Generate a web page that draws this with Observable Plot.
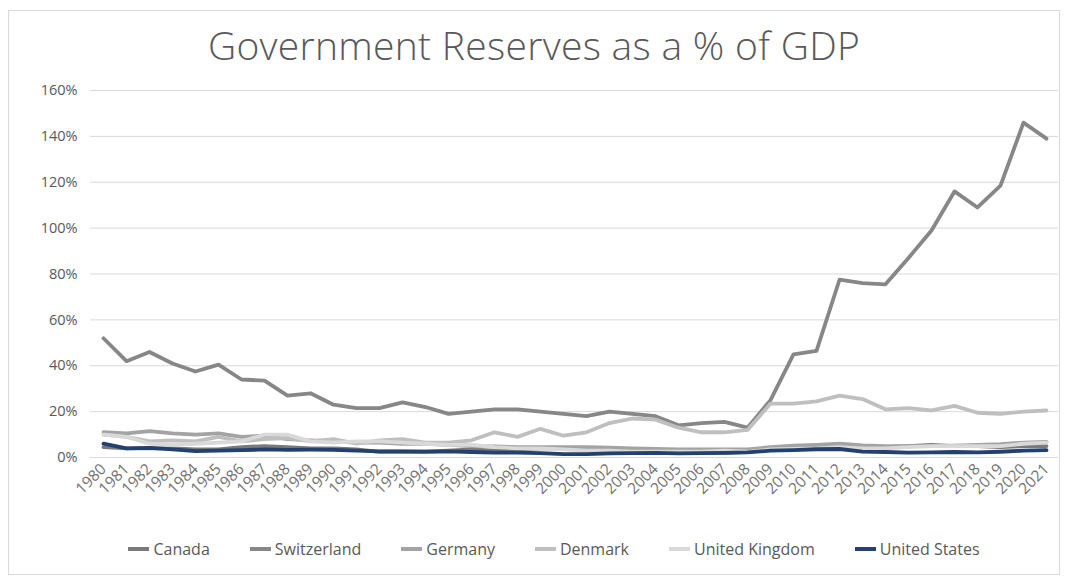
<!DOCTYPE html>
<html>
<head>
<meta charset="utf-8">
<script src="https://cdn.jsdelivr.net/npm/d3@7"></script>
<script src="https://cdn.jsdelivr.net/npm/@observablehq/plot@0.6"></script>
<style>
  body { margin: 0; background: #fff; font-family: "Open Sans", sans-serif; }
  #frame { position: absolute; left: 8px; top: 10px; width: 1050px; height: 563px; border: 1px solid #d9d9d9; background: #fff; }
  #title { height: 61px; box-sizing: border-box; padding-top: 6px; line-height: 55px; text-align: center; font-size: 39px; color: #595959; font-weight: 300; letter-spacing: 0.3px; }
  #chart svg { display: block; }
  #legend { display: flex; justify-content: center; gap: 40px; padding-top: 32px; padding-left: 40px; font-size: 16px; color: #595959; line-height: 20px; }
  .item { display: flex; align-items: center; }
  .sw { width: 21px; height: 4px; margin-right: 4px; }
</style>
</head>
<body>
<div id="frame">
  <div id="title">Government Reserves as a % of GDP</div>
  <div id="chart"></div>
  <div id="legend"></div>
</div>
<script>
const years = [1980,1981,1982,1983,1984,1985,1986,1987,1988,1989,1990,1991,1992,1993,1994,1995,1996,1997,1998,1999,2000,2001,2002,2003,2004,2005,2006,2007,2008,2009,2010,2011,2012,2013,2014,2015,2016,2017,2018,2019,2020,2021];

const seriesNames = ["Canada", "Switzerland", "Germany", "Denmark", "United Kingdom", "United States"];
const seriesColors = ["#7a7a7a", "#878787", "#a3a3a3", "#bfbfbf", "#d9d9d9", "#23416f"];

const canada = [4.5,4,4,4,3.5,3.5,4.5,5,4.5,4,4,3.5,2.5,2.5,2.5,3,3.5,3,3.5,4,4,4,3.5,3,2.5,2,2,2,2.5,3.5,4,4.5,4.5,4.5,4.5,5,5.5,5,5,4.5,5,5];
const switzerland = [52,42,46,41,37.5,40.5,34,33.5,27,28,23,21.5,21.5,24,22,19,20,21,21,20,19,18,20,19,18,14,15,15.5,13,25,45,46.5,77.5,76,75.5,87,99,116,109,118.5,146,139];
const germany = [11,10.5,11.5,10.5,10,10.5,9,9.5,8,7.5,7,6.5,6.5,6,6,5.5,5,4.8,4.5,4.5,4.5,4.5,4.3,4,3.8,3.5,3.5,3.5,3.5,4.5,5.2,5.5,6,5.3,5,5,5,5.2,5.5,5.8,6.5,6.8];
const denmark = [10,9,7,7.5,7,9,7,8,8.5,7,8,6,7.5,8,6.5,6.5,7.5,11,9,12.5,9.5,11,15,17,16.5,13,11,11,12,23.5,23.5,24.5,27,25.5,21,21.5,20.5,22.5,19.5,19,20,20.5];
const unitedKingdom = [10,9,6,5.5,6,6.5,7,10,10,7,6.5,7,7,6.5,6,5.5,5.5,4.5,4,4,3.5,3,3,2.5,2.5,2.5,2.5,3,2.5,3.5,3.8,4,4.5,4,4,4.5,5,5,5,5,6,6.5];
const unitedStates = [6,4,4.2,3.5,2.8,3,3.2,3.5,3.3,3.4,3.3,3,2.7,2.7,2.6,2.7,2.4,2.1,2.1,1.9,1.5,1.5,1.8,1.9,2,1.8,1.9,2,2.2,3,3.2,3.6,3.7,2.6,2.4,2.1,2.2,2.4,2.2,2.5,3,3.2];

const yTicks = [0,20,40,60,80,100,120,140,160];

const allValues = [canada, switzerland, germany, denmark, unitedKingdom, unitedStates];
const data = [];
seriesNames.forEach((name, i) => {
  allValues[i].forEach((v, j) => data.push({series: name, year: String(years[j]), value: v}));
});

const lines = seriesNames.map((name, i) =>
  Plot.line(data.filter(d => d.series === name), {
    x: "year", y: "value", stroke: seriesColors[i], strokeWidth: 3.8,
    strokeLinejoin: "round", strokeLinecap: "round"
  })
);

const chart = Plot.plot({
  width: 1050,
  height: 435,
  marginTop: 18,
  marginBottom: 50,
  marginLeft: 81,
  marginRight: 1,
  style: { fontFamily: "'Open Sans', sans-serif", fontSize: "14.5px", color: "#595959", background: "#fff" },
  x: { type: "point", domain: years.map(String), padding: 0.5, label: null },
  y: { domain: [0, 160], label: null },
  marks: [
    Plot.ruleY(yTicks, { stroke: "#d9d9d9", strokeWidth: 1 }),
    ...lines,
    Plot.axisX({ tickSize: 0, tickRotate: -45, tickPadding: 9, fontSize: 15.5, fill: "#737373" }),
    Plot.axisY({ ticks: yTicks, tickFormat: d => d + "%", tickSize: 0, tickPadding: 13, fontSize: 14.5, fill: "#595959" })
  ]
});
document.getElementById("chart").appendChild(chart);

const legend = document.getElementById("legend");
seriesNames.forEach((name, i) => {
  const item = document.createElement("div");
  item.className = "item";
  const sw = document.createElement("span");
  sw.className = "sw";
  sw.style.background = seriesColors[i];
  const label = document.createElement("span");
  label.textContent = name;
  item.appendChild(sw);
  item.appendChild(label);
  legend.appendChild(item);
});
</script>
</body>
</html>
